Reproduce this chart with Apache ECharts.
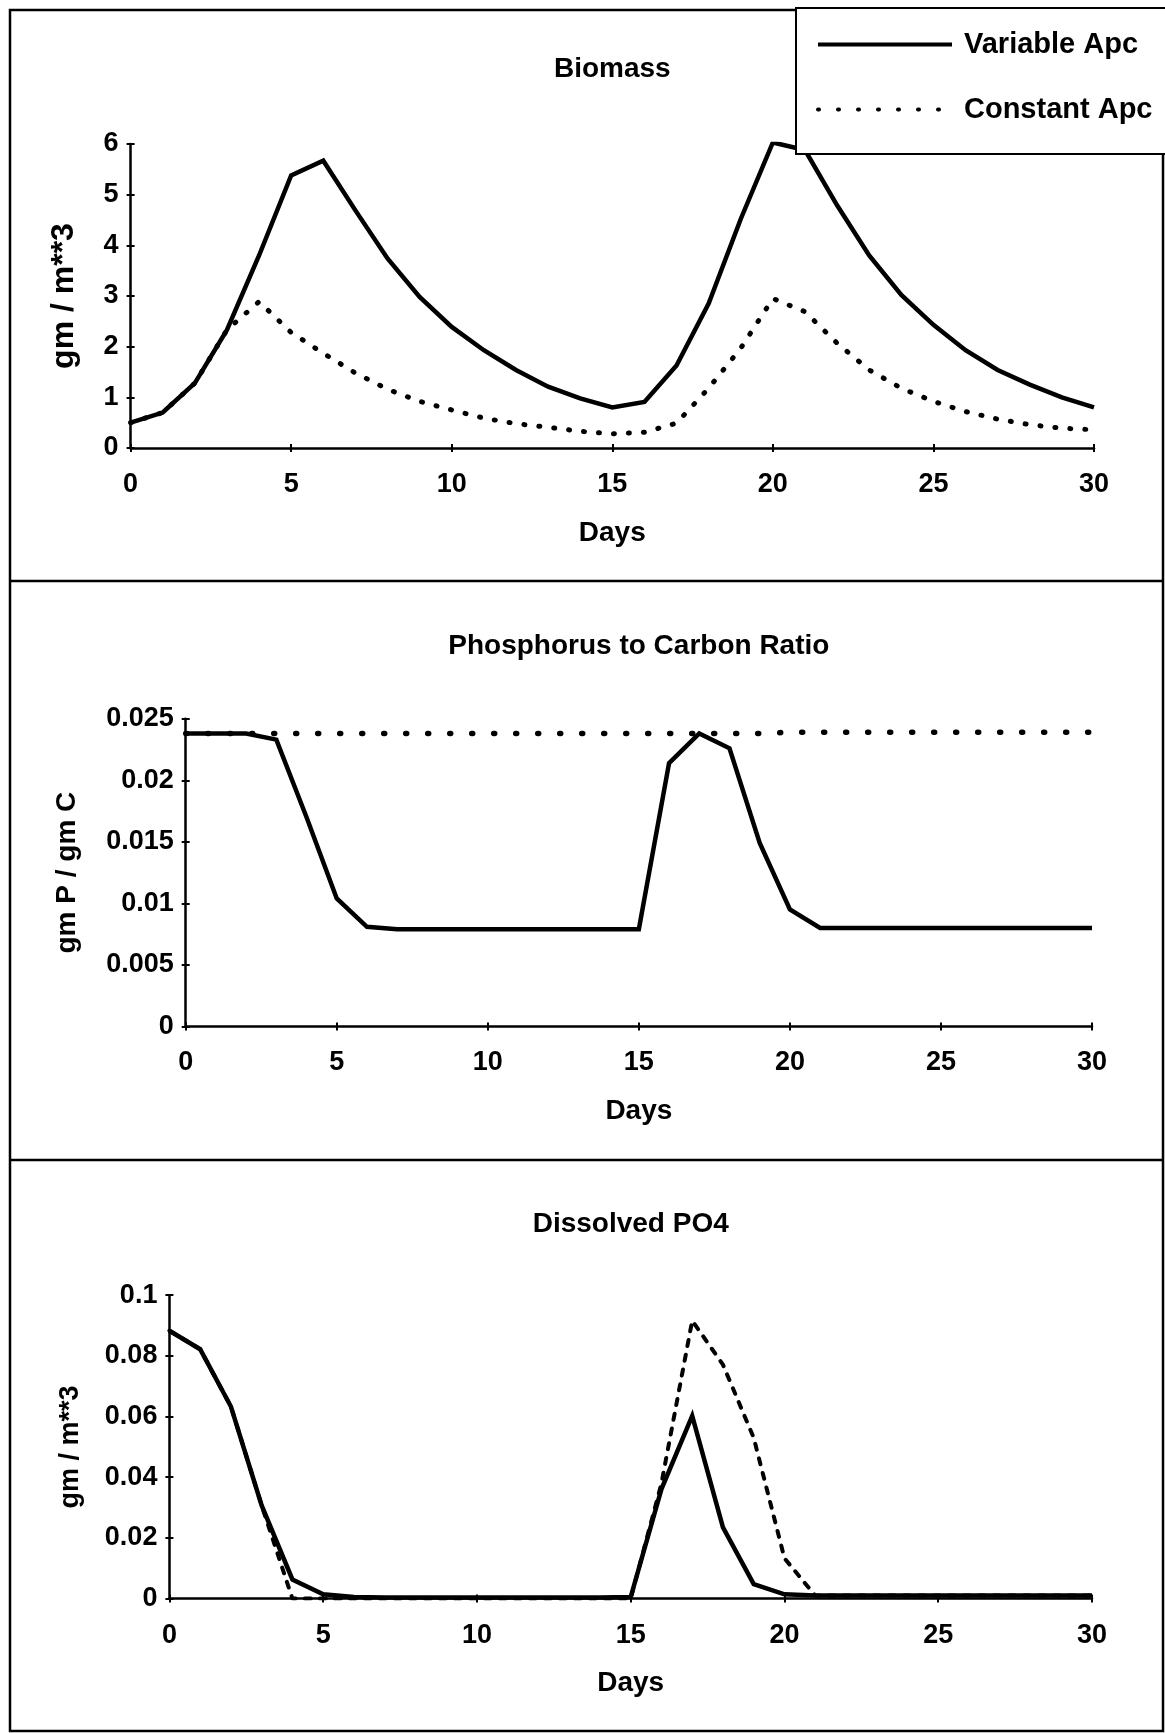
<!DOCTYPE html>
<html><head><meta charset="utf-8">
<script src="https://cdn.jsdelivr.net/npm/echarts@6/dist/echarts.min.js"></script>
<style>html,body{margin:0;padding:0;background:#fff}#c{width:1165px;height:1733px}</style>
</head><body><div id="c"></div>
<script>
// ---- data ----
const days = [0,1,2,3,4,5,6,7,8,9,10,11,12,13,14,15,16,17,18,19,20,21,22,23,24,25,26,27,28,29,30];
const xTicks = [0,5,10,15,20,25,30];
const seriesNames = ['Variable Apc','Constant Apc'];
const titles = ['Biomass','Phosphorus to Carbon Ratio','Dissolved PO4'];
const yNames = ['gm / m**3','gm P / gm C','gm / m**3'];
const xName = 'Days';

const biomassTicks = [0,1,2,3,4,5,6];
const biomassVariable = [0.50,0.70,1.28,2.33,3.80,5.38,5.67,4.69,3.74,2.98,2.39,1.93,1.54,1.21,0.98,0.80,0.91,1.63,2.85,4.52,6.03,5.88,4.79,3.80,3.02,2.43,1.93,1.54,1.25,1.00,0.80];
const biomassConstant = [0.50,0.70,1.28,2.33,2.89,2.28,1.87,1.48,1.16,0.92,0.75,0.59,0.48,0.41,0.33,0.28,0.31,0.49,1.18,1.97,2.95,2.69,2.07,1.54,1.18,0.92,0.72,0.57,0.46,0.39,0.36];

const pcTicks = [0,0.005,0.01,0.015,0.02,0.025];
const pcVariable = [0.0238,0.0238,0.0238,0.0233,0.0170,0.0104,0.0081,0.0079,0.0079,0.0079,0.0079,0.0079,0.0079,0.0079,0.0079,0.0079,0.0214,0.0238,0.0226,0.0149,0.0095,0.0080,0.0080,0.0080,0.0080,0.0080,0.0080,0.0080,0.0080,0.0080,0.0080];
const pcConstant = [0.0238,0.0238,0.0238,0.0238,0.0238,0.0238,0.0238,0.0238,0.0238,0.0238,0.0238,0.0238,0.0238,0.0238,0.0238,0.0238,0.0238,0.0238,0.0238,0.0238,0.0239,0.0239,0.0239,0.0239,0.0239,0.0239,0.0239,0.0239,0.0239,0.0239,0.0239];

const po4Ticks = [0,0.02,0.04,0.06,0.08,0.1];
const po4Variable = [0.0883,0.0822,0.0633,0.0307,0.0063,0.0014,0.0005,0.0004,0.0004,0.0004,0.0004,0.0004,0.0004,0.0004,0.0004,0.0005,0.0361,0.0602,0.0235,0.0048,0.0014,0.0010,0.0010,0.0010,0.0010,0.0010,0.0010,0.0010,0.0010,0.0010,0.0010];
const po4Constant = [0.0883,0.0822,0.0633,0.0307,0.0000,0.0000,0.0000,0.0000,0.0000,0.0000,0.0000,0.0000,0.0000,0.0000,0.0000,0.0000,0.0380,0.0916,0.0771,0.0530,0.0133,0.0010,0.0010,0.0010,0.0010,0.0010,0.0010,0.0010,0.0010,0.0010,0.0010];

// ---- layout / style ----
const FONT = "'Liberation Sans', Arial, Helvetica, sans-serif";
const panels = [
  {grid:{left:130.6,right:71,top:144,height:304}, ticks:biomassTicks, v:biomassVariable, c:biomassConstant,
   dash:[1,14], dashW:5, titleTop:55, yNameSize:32, yNameGap:50},
  {grid:{left:185.7,right:73,top:718.7,height:307.8}, ticks:pcTicks, v:pcVariable, c:pcConstant,
   dash:[1,21], dashW:5.5, titleTop:632.6, yNameSize:28, yNameGap:104},
  {grid:{left:169.4,right:73,top:1295.2,height:303.4}, ticks:po4Ticks, v:po4Variable, c:po4Constant,
   dash:[6,9], dashW:4, titleTop:1210, yNameSize:27, yNameGap:85}
];

const fmt = v => String(+(+v).toFixed(4));
const grids = [], xAxes = [], yAxes = [], series = [], titleArr = [];
panels.forEach((p, i) => {
  grids.push(Object.assign({containLabel:false, outerBoundsMode:'none'}, p.grid));
  const cx = p.grid.left + (1165 - p.grid.left - p.grid.right) / 2;
  titleArr.push({text: titles[i], left: cx, top: p.titleTop, textAlign:'center', padding:0,
    textStyle:{fontFamily:FONT, fontWeight:'bold', fontSize:28, color:'#000'}});
  const xmin = xTicks[0], xmax = xTicks[xTicks.length-1], xint = xTicks[1]-xTicks[0];
  const ymin = p.ticks[0], ymax = p.ticks[p.ticks.length-1], yint = p.ticks[1]-p.ticks[0];
  xAxes.push({type:'value', gridIndex:i, min:xmin, max:xmax, interval:xint, position:'bottom',
    name:xName, nameLocation:'middle', nameGap:71,
    nameTextStyle:{fontFamily:FONT, fontWeight:'bold', fontSize:28, color:'#000'},
    axisLine:{show:true, onZero:false, lineStyle:{color:'#000', width:2.5}},
    axisTick:{show:true, inside:false, length:4, lineStyle:{color:'#000', width:2}},
    axisLabel:{margin:23, fontFamily:FONT, fontWeight:'bold', fontSize:27, color:'#000'},
    splitLine:{show:false}});
  xAxes.push({type:'value', gridIndex:i, min:xmin, max:xmax, interval:xint, position:'bottom',
    axisLine:{show:false, onZero:false}, axisTick:{show:true, inside:true, length:4, lineStyle:{color:'#000', width:2}},
    axisLabel:{show:false}, splitLine:{show:false}});
  yAxes.push({type:'value', gridIndex:i, min:ymin, max:ymax, interval:yint, position:'left',
    name:yNames[i], nameLocation:'middle', nameGap:p.yNameGap,
    nameTextStyle:{fontFamily:FONT, fontWeight:'bold', fontSize:p.yNameSize, color:'#000'},
    axisLine:{show:true, onZero:false, lineStyle:{color:'#000', width:2.5}},
    axisTick:{show:true, inside:false, length:4, lineStyle:{color:'#000', width:2}},
    axisLabel:{margin:12, formatter:fmt, fontFamily:FONT, fontWeight:'bold', fontSize:27, color:'#000'},
    splitLine:{show:false}});
  yAxes.push({type:'value', gridIndex:i, min:ymin, max:ymax, interval:yint, position:'left',
    axisLine:{show:false, onZero:false}, axisTick:{show:true, inside:true, length:4, lineStyle:{color:'#000', width:2}},
    axisLabel:{show:false}, splitLine:{show:false}});
  const xi = i*2, yi = i*2;
  series.push({type:'line', name:seriesNames[1], xAxisIndex:xi, yAxisIndex:yi, symbol:'none', silent:true,
    data: days.map((d,k)=>[d, p.c[k]]), z:2, itemStyle:{color:'#000'},
    lineStyle:{color:'#000', width:p.dashW, type:p.dash, cap:'round'}});
  series.push({type:'line', name:seriesNames[0], xAxisIndex:xi, yAxisIndex:yi, symbol:'none', silent:true,
    data: days.map((d,k)=>[d, p.v[k]]), z:3, itemStyle:{color:'#000'},
    lineStyle:{color:'#000', width:4.5, type:'solid', join:'miter'}});
});

const chart = echarts.init(document.getElementById('c'), null, {renderer:'canvas'});
chart.setOption({
  animation:false,
  backgroundColor:'#fff',
  title: titleArr,
  grid: grids,
  xAxis: xAxes,
  yAxis: yAxes,
  legend:{
    data:[
      {name:seriesNames[0], lineStyle:{color:'#000', width:4, type:'solid'}},
      {name:seriesNames[1], lineStyle:{color:'#000', width:4, type:[1,19], cap:'round'}}
    ],
    orient:'vertical', left:796, top:8, itemWidth:134, itemHeight:28, itemGap:36,
    padding:[22,30,30,20], backgroundColor:'#fff', borderColor:'#000', borderWidth:2, borderRadius:0,
    selectedMode:false, z:10,
    itemStyle:{opacity:0, borderWidth:0},
    lineStyle:{color:'#000', width:4},
    textStyle:{fontFamily:FONT, fontWeight:'bold', fontSize:29, color:'#000', padding:[0,0,0,7]}},
  graphic:[
    {type:'rect', z:-1, shape:{x:10,y:10,width:1153,height:1721}, style:{fill:'none', stroke:'#000', lineWidth:2.5}},
    {type:'line', z:-1, shape:{x1:10,y1:581,x2:1163,y2:581}, style:{stroke:'#000', lineWidth:2.5}},
    {type:'line', z:-1, shape:{x1:10,y1:1160,x2:1163,y2:1160}, style:{stroke:'#000', lineWidth:2.5}}
  ],
  series: series
});
</script></body></html>
